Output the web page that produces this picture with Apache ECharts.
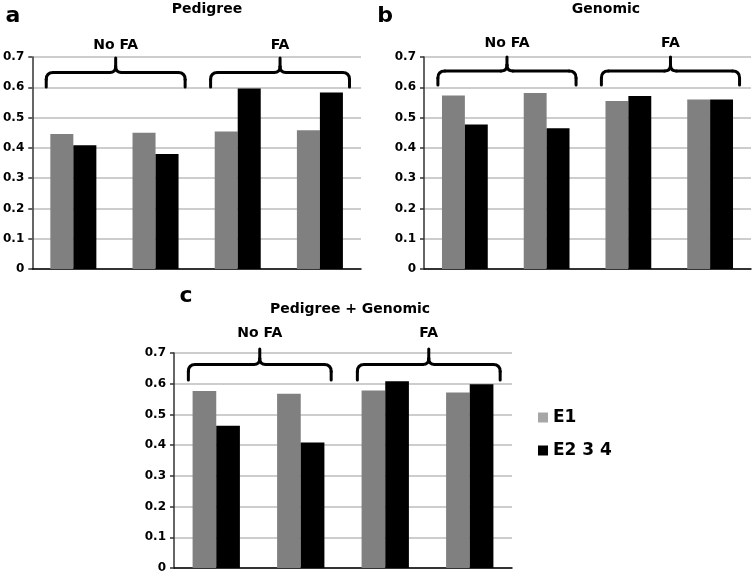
<!DOCTYPE html>
<html>
<head>
<meta charset="utf-8">
<script src="https://cdn.jsdelivr.net/npm/echarts@6/dist/echarts.min.js"></script>
<style>html,body{margin:0;padding:0;background:#fff;}#c{width:755px;height:574px;}</style>
</head>
<body>
<div id="c"></div>
<script>
var categories = ['No FA 1', 'No FA 2', 'FA 1', 'FA 2'];
var seriesNames = ['E1', 'E2 3 4'];
var panelLetters = ['a', 'b', 'c'];
var panelTitles = ['Pedigree', 'Genomic', 'Pedigree + Genomic'];
var groupLabels = ['No FA', 'FA'];
var pedigreeE1 = [0.446, 0.450, 0.454, 0.458];
var pedigreeE234 = [0.409, 0.380, 0.596, 0.583];
var genomicE1 = [0.573, 0.581, 0.555, 0.560];
var genomicE234 = [0.477, 0.465, 0.571, 0.560];
var combinedE1 = [0.576, 0.567, 0.578, 0.571];
var combinedE234 = [0.463, 0.409, 0.608, 0.598];
var yMin = 0, yMax = 0.7, yStep = 0.1;

var panelData = [[pedigreeE1, pedigreeE234], [genomicE1, genomicE234], [combinedE1, combinedE234]];
var grids = [
  {left: 32, top: 57, width: 329, height: 212},
  {left: 424, top: 57, width: 327, height: 212},
  {left: 174, top: 353, width: 338, height: 216}
];
var FONT = 'DejaVu Sans';
var barColors = ['#808080', '#000000'];

var chart = echarts.init(document.getElementById('c'), null, {renderer: 'canvas'});
var xAxes = [], yAxes = [], series = [];
grids.forEach(function (g, i) {
  xAxes.push({
    type: 'category', gridIndex: i, data: categories,
    axisLabel: {show: false}, axisTick: {show: false},
    axisLine: {show: true, lineStyle: {color: '#000', width: 1.5}}
  });
  yAxes.push({
    type: 'value', gridIndex: i, min: yMin, max: yMax, interval: yStep,
    axisLine: {show: true, lineStyle: {color: '#333', width: 1.5}},
    axisTick: {show: true, length: 4, lineStyle: {color: '#333', width: 1.5}},
    axisLabel: {margin: 8, color: '#000', fontFamily: FONT, fontWeight: 'bold', fontSize: 12,
      formatter: function (v) { return v === 0 ? '0' : v.toFixed(1); }},
    splitLine: {show: true, lineStyle: {color: '#bdbdbd', width: 1.5}}
  });
  panelData[i].forEach(function (arr, k) {
    series.push({
      type: 'bar', name: seriesNames[k], xAxisIndex: i, yAxisIndex: i, data: arr,
      itemStyle: {color: barColors[k]}, barGap: '0%', barCategoryGap: '44%'
    });
  });
});

chart.setOption({
  animation: false,
  backgroundColor: '#fff',
  grid: grids,
  xAxis: xAxes,
  yAxis: yAxes,
  series: series,
  legend: {
    orient: 'vertical', left: 533, top: 404, itemWidth: 10, itemHeight: 10, itemGap: 16,
    icon: 'rect',
    textStyle: {fontSize: 17, fontWeight: 'bold', fontFamily: FONT, color: '#000'},
    data: [
      {name: seriesNames[0], itemStyle: {color: '#a6a6a6'}},
      {name: seriesNames[1], itemStyle: {color: '#000'}}
    ]
  }
});

function txt(text, x, y, size, align) {
  return {
    type: 'text', x: x, y: y, silent: true,
    style: {text: text, fill: '#000', font: 'bold ' + size + 'px "' + FONT + '"',
      align: align || 'center', verticalAlign: 'middle',
      textAlign: align || 'center', textVerticalAlign: 'middle'}
  };
}
var BR = {stroke: '#000', lineWidth: 3, fill: null, lineCap: 'round'};
function seg(x1, y1, x2, y2) {
  return {type: 'line', silent: true, shape: {x1: x1, y1: y1, x2: x2, y2: y2}, style: BR};
}
function curve(x1, y1, cx, cy, x2, y2) {
  return {type: 'bezierCurve', silent: true,
    shape: {x1: x1, y1: y1, cpx1: cx, cpy1: cy, x2: x2, y2: y2}, style: BR};
}

var graphics = [];
var letterPos = [[13, 16], [385, 16], [186, 296]];
var titlePos = [[207, 9], [606, 9], [350, 309]];
for (var i = 0; i < 3; i++) {
  graphics.push(txt(panelLetters[i], letterPos[i][0], letterPos[i][1], 22));
  graphics.push(txt(panelTitles[i], titlePos[i][0], titlePos[i][1], 14));
}
var tipOff = [1, 0, -4], depth = [29, 28, 31], labelOff = [-13, -14, -16];
for (var i = 0; i < 3; i++) {
  var p0 = chart.convertToPixel({xAxisIndex: i, yAxisIndex: i}, [0, yMax]);
  var p1 = chart.convertToPixel({xAxisIndex: i, yAxisIndex: i}, [1, yMax]);
  var band = p1[0] - p0[0];
  for (var gI = 0; gI < 2; gI++) {
    var a = chart.convertToPixel({xAxisIndex: i, yAxisIndex: i}, [gI * 2, yMax]);
    var b = chart.convertToPixel({xAxisIndex: i, yAxisIndex: i}, [gI * 2 + 1, yMax]);
    var x0 = a[0] - 0.33 * band, x1 = b[0] + 0.36 * band;
    var yTip = a[1] + tipOff[i];
    var yEnd = yTip + depth[i], yMid = yTip + depth[i] * 0.5, r = 7, rc = 6, xc = (x0 + x1) / 2;
    graphics.push(seg(x0, yEnd, x0, yMid + r));
    graphics.push(curve(x0, yMid + r, x0, yMid, x0 + r, yMid));
    graphics.push(seg(x0 + r, yMid, xc - rc, yMid));
    graphics.push(curve(xc - rc, yMid, xc, yMid, xc, yMid - rc));
    graphics.push(seg(xc, yMid - rc, xc, yTip));
    graphics.push(curve(xc, yMid - rc, xc, yMid, xc + rc, yMid));
    graphics.push(seg(xc + rc, yMid, x1 - r, yMid));
    graphics.push(curve(x1 - r, yMid, x1, yMid, x1, yMid + r));
    graphics.push(seg(x1, yMid + r, x1, yEnd));
    graphics.push(txt(groupLabels[gI], xc, yTip + labelOff[i], 14));
  }
}
chart.setOption({graphic: graphics});
</script>
</body>
</html>
